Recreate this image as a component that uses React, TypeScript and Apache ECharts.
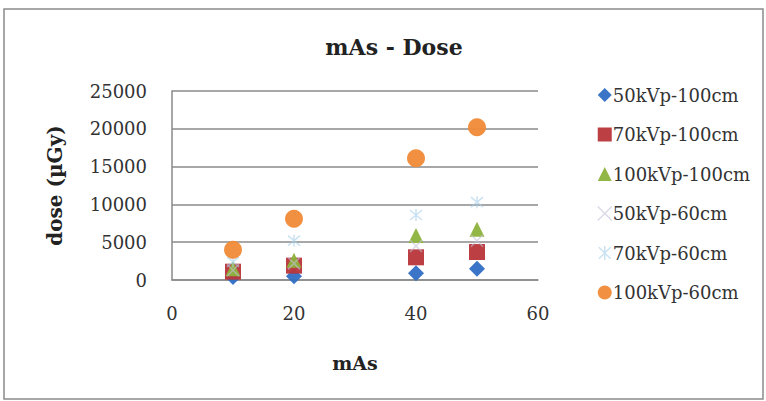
import React, { useEffect, useRef } from "react";
import * as echarts from "echarts";

const mAs = [10, 20, 40, 50];
const kv50cm100 = [400, 500, 900, 1500];
const kv70cm100 = [1100, 1900, 3000, 3700];
const kv100cm100 = [1500, 2600, 5900, 6700];
const kv50cm60 = [1300, 2200, 4500, 5200];
const kv70cm60 = [2400, 5200, 8600, 10300];
const kv100cm60 = [4000, 8100, 16100, 20200];

const seriesNames = [
  "50kVp-100cm",
  "70kVp-100cm",
  "100kVp-100cm",
  "50kVp-60cm",
  "70kVp-60cm",
  "100kVp-60cm",
];
const seriesValues = [kv50cm100, kv70cm100, kv100cm100, kv50cm60, kv70cm60, kv100cm60];
const colors = ["#2f6ec4", "#b8353a", "#8db33c", "#c4bfd6", "#a6cfe8", "#ef8a36"];

const X_PATH = "path://M0,0L10,10M10,0L0,10";
const STAR_PATH = "path://M0,0L10,10M10,0L0,10M5,-1L5,11";
const symbols = ["diamond", "rect", "triangle", X_PATH, STAR_PATH, "circle"];
const sizes = [16, 16, 15, 12, 12, 18];

const FONT = "DejaVu Serif";

export default function App() {
  const ref = useRef<HTMLDivElement>(null);
  useEffect(() => {
    document.body.style.margin = "0";
    const chart = echarts.init(ref.current!, null, { renderer: "svg" });
    const series = seriesNames.map((name, i) => {
      const stroke = i === 3 || i === 4;
      return {
        name,
        type: "scatter",
        symbol: symbols[i],
        symbolSize: sizes[i],
        data: mAs.map((x, j) => [x, seriesValues[i][j]]),
        itemStyle: stroke
          ? { color: "rgba(0,0,0,0)", borderColor: colors[i], borderWidth: 1.5, opacity: 0.6 }
          : { color: colors[i], opacity: 0.95 },
        z: 2 + i,
      };
    });
    chart.setOption({
      animation: false,
      backgroundColor: "#ffffff",
      title: {
        text: "mAs - Dose",
        left: 389,
        top: 31,
        textAlign: "center",
        textStyle: { fontFamily: FONT, fontSize: 22, fontWeight: "bold", color: "#222" },
      },
      grid: { left: 172, right: 228, top: 91, bottom: 121 },
      xAxis: {
        type: "value",
        min: 0,
        max: 60,
        interval: 20,
        name: "mAs",
        nameLocation: "middle",
        nameGap: 73,
        nameTextStyle: { fontFamily: FONT, fontSize: 19, fontWeight: "bold", color: "#222" },
        axisLine: { show: true, lineStyle: { color: "#8a8a8a", width: 1.5 } },
        axisTick: { show: false },
        splitLine: { show: false },
        axisLabel: { fontFamily: FONT, fontSize: 18, color: "#333", margin: 24 },
      },
      yAxis: {
        type: "value",
        min: 0,
        max: 25000,
        interval: 5000,
        name: "dose (µGy)",
        nameLocation: "middle",
        nameGap: 107,
        nameRotate: 90,
        nameTextStyle: { fontFamily: FONT, fontSize: 20, fontWeight: "bold", color: "#222" },
        axisLine: { show: true, lineStyle: { color: "#8a8a8a", width: 1.5 } },
        axisTick: { show: false },
        splitLine: { show: true, lineStyle: { color: "#8a8a8a", width: 1.5 } },
        axisLabel: {
          fontFamily: FONT,
          fontSize: 18,
          color: "#333",
          margin: 25,
          formatter: (v: number) => String(v),
        },
      },
      legend: {
        orient: "vertical",
        left: 592,
        top: 80,
        itemGap: 19.5,
        itemWidth: 14,
        itemHeight: 14,
        data: seriesNames.map((n, i) => ({
          name: n,
          icon: symbols[i],
          itemStyle:
            i === 3 || i === 4
              ? { color: "rgba(0,0,0,0)", borderColor: colors[i], borderWidth: 1.5 }
              : { color: colors[i] },
        })),
        textStyle: { fontFamily: FONT, fontSize: 18, color: "#333", lineHeight: 20, padding: [0, 0, 0, -4] },
      },
      graphic: [
        {
          type: "rect",
          shape: { x: 4, y: 9, width: 759, height: 390 },
          style: { fill: "none", stroke: "#8a8a8a", lineWidth: 1.5 },
          silent: true,
          z: -1,
        },
      ],
      series,
    });
    return () => chart.dispose();
  }, []);
  return (
    <div
      ref={ref}
      style={{ position: "absolute", left: 0, top: 0, width: 766, height: 401 }}
    />
  );
}
